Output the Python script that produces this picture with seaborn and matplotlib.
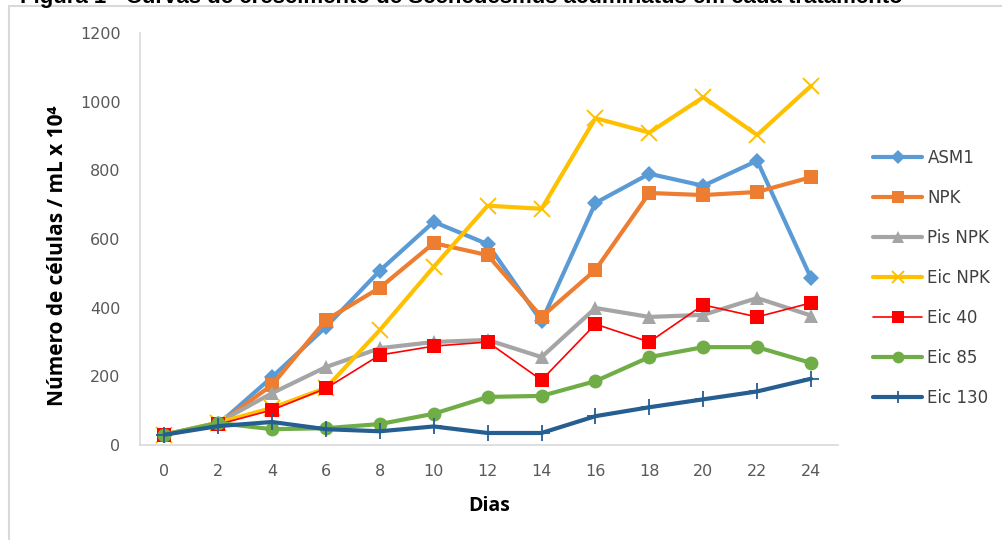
import matplotlib
matplotlib.use("Agg")
import matplotlib.pyplot as plt
from matplotlib.patches import Rectangle
import seaborn as sns
import pandas as pd

sns.set_theme(style="white")
plt.rcParams["font.family"] = ["DejaVu Sans"]

# Growth curves: cell counts (x10^4 cells/mL) per sampling day
dias = [0, 2, 4, 6, 8, 10, 12, 14, 16, 18, 20, 22, 24]
asm1 = [30, 60, 198, 344, 508, 650, 585, 360, 705, 790, 755, 828, 486]
npk = [30, 60, 175, 364, 458, 588, 553, 373, 510, 734, 728, 737, 780]
pis_npk = [30, 65, 151, 227, 282, 300, 306, 256, 399, 373, 379, 428, 377]
eic_npk = [30, 65, 108, 166, 335, 519, 697, 688, 952, 910, 1013, 903, 1046]
eic_40 = [30, 60, 102, 165, 262, 288, 300, 189, 352, 300, 408, 373, 414]
eic_85 = [30, 64, 46, 49, 61, 91, 140, 143, 186, 256, 285, 285, 239]
eic_130 = [30, 55, 67, 46, 40, 54, 35, 35, 84, 110, 133, 156, 193]

series_names = ["ASM1", "NPK", "Pis NPK", "Eic NPK", "Eic 40", "Eic 85", "Eic 130"]
series_values = [asm1, npk, pis_npk, eic_npk, eic_40, eic_85, eic_130]

styles = {
    "ASM1":    dict(color="#5B9BD5", marker="D", lw=3.0, ms=8, mew=0),
    "NPK":     dict(color="#ED7D31", marker="s", lw=3.0, ms=10, mew=0),
    "Pis NPK": dict(color="#A5A5A5", marker="^", lw=3.0, ms=10, mew=0),
    "Eic NPK": dict(color="#FFC000", marker="x", lw=3.0, ms=11, mew=1.4),
    "Eic 40":  dict(color="#FF0000", marker="s", lw=1.2, ms=10, mew=0),
    "Eic 85":  dict(color="#70AD47", marker="o", lw=3.0, ms=10, mew=0),
    "Eic 130": dict(color="#255E91", marker="+", lw=3.0, ms=11, mew=1.3),
}

fig = plt.figure(figsize=(10.03, 5.40), dpi=100)
ax = fig.add_axes([140 / 1003, 95 / 540, 698 / 1003, 412 / 540])

handles = []
for name, vals in zip(series_names, series_values):
    st = styles[name]
    df = pd.DataFrame({"Dias": dias, "valor": vals})
    sns.lineplot(data=df, x="Dias", y="valor", ax=ax, color=st["color"],
                 linewidth=st["lw"], marker=st["marker"], markersize=st["ms"],
                 markeredgewidth=st["mew"], markeredgecolor=st["color"],
                 markerfacecolor=st["color"], label=name)
    handles.append(ax.lines[-1])

ax.set_xlim(-0.9, 25.0)
ax.set_ylim(0, 1200)
ax.set_xticks(dias)
ax.set_yticks(range(0, 1201, 200))
ax.tick_params(axis="both", length=0, labelsize=11.5, labelcolor="#595959")
ax.tick_params(axis="x", pad=14)
ax.tick_params(axis="y", pad=14)

for side in ["top", "right"]:
    ax.spines[side].set_visible(False)
for side in ["left", "bottom"]:
    ax.spines[side].set_color("#D9D9D9")
    ax.spines[side].set_linewidth(1.2)
ax.grid(False)

label_font = dict(family=["Open Sans", "DejaVu Sans"], size=14, weight="bold")
ax.set_xlabel("Dias", fontdict=label_font, color="black", labelpad=12)
ax.set_ylabel("Número de células / mL x 10⁴", fontdict={**label_font, "size": 15},
              color="black")
ax.yaxis.set_label_coords(-0.103, 0.459)

leg = ax.legend(handles=handles, labels=series_names, loc="upper left",
                bbox_to_anchor=(1.029, 0.756), frameon=False,
                prop=dict(family="DejaVu Sans", size=12),
                handlelength=2.95, labelspacing=1.32, handletextpad=0.3)
for t in leg.get_texts():
    t.set_color("#404040")
for h in leg.legend_handles:
    h.set_markersize(h.get_markersize() * 0.85)

# Outer frame and the caption line above it
fig.patches.append(Rectangle((9 / 1003, -0.1), 1.2, 1 - 6 / 540 + 0.1,
                             transform=fig.transFigure, fill=False,
                             edgecolor="#D9D9D9", linewidth=1.5))
fig.text(20 / 1003, 1 - 3 / 540,
         "Figura 1 - Curvas de crescimento de Scenedesmus acuminatus em cada tratamento",
         family=["Liberation Sans", "DejaVu Sans"], fontsize=16, fontweight="bold",
         color="black", va="baseline", ha="left")

fig.savefig("out.png", dpi=100)
